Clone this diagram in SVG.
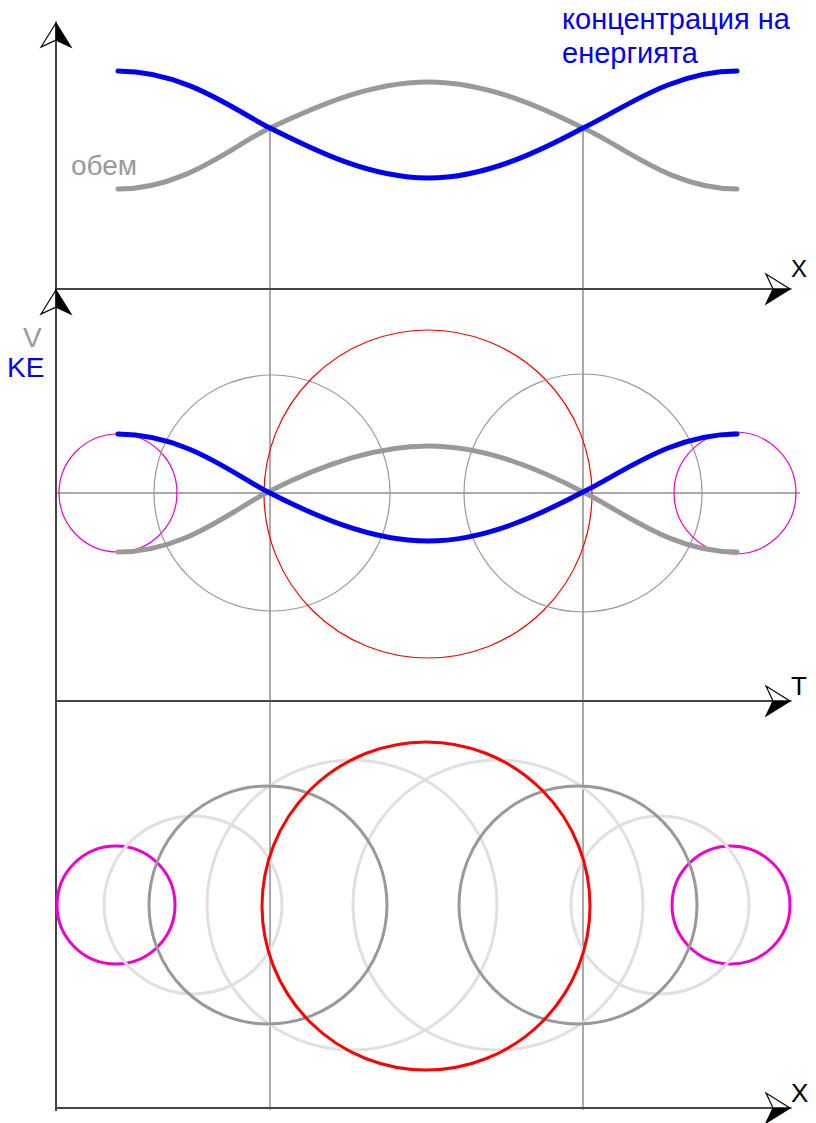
<svg xmlns="http://www.w3.org/2000/svg" xmlns:xlink="http://www.w3.org/1999/xlink" width="816" height="1123" viewBox="0 0 816 1123">
<style>
.axis{stroke:#444;stroke-width:2;fill:none}
.guide{stroke:#555;stroke-width:1;fill:none}
.blue{stroke:#0000f0;stroke-width:5;fill:none;stroke-linecap:round}
.gray{stroke:#999;stroke-width:5;fill:none;stroke-linecap:round}
.thin{fill:none;stroke-width:1.2}
.thick{fill:none;stroke-width:3}
.mag{stroke:#ee00c8}
.red{stroke:#ff0000}
.dg{stroke:#999}
.lg{stroke:#e0e0e0}
.lbl{font-family:"Liberation Sans",Arial,sans-serif}
</style>
<defs>
<g id="arrowR">
<polygon points="0,0 -24,-15 -17,0" fill="#fff" stroke="#000" stroke-width="1.2"/>
<polygon points="0,0 -17,0 -24,15" fill="#000" stroke="#000" stroke-width="1.2"/>
</g>
</defs>
<g id="axes">
<line class="axis" x1="56" y1="24" x2="56" y2="1111"/>
<line class="axis" x1="55" y1="289" x2="774" y2="289"/>
<line class="axis" x1="55" y1="701" x2="774" y2="701"/>
<line class="axis" x1="55" y1="1108" x2="774" y2="1108"/>
<use xlink:href="#arrowR" transform="translate(790,289)"/>
<use xlink:href="#arrowR" transform="translate(790,701)"/>
<use xlink:href="#arrowR" transform="translate(790,1108)"/>
<use xlink:href="#arrowR" transform="translate(56,23) rotate(-90)"/>
<use xlink:href="#arrowR" transform="translate(56,290) rotate(-90)"/>
</g>
<g id="guides">
<line class="guide" x1="270" y1="128" x2="270" y2="1110"/>
<line class="guide" x1="583" y1="128" x2="583" y2="1110"/>
<line class="guide" x1="56" y1="493" x2="800" y2="493"/>
</g>
<g id="top-curves">
<path class="gray" d="M118,189 C185,189 232,146 270,128 C315,107 370,82 428,82 C486,82 541,107 583,128 C624,146 671,189 737,189"/>
<path class="blue" d="M118,71 C185,71 235,110.5 270,128 C315,150.5 370,178 428,178 C486,178 541,150.5 583,128 C621,110.5 671,71 737,71"/>
</g>
<g id="middle-circles">
<circle class="thin mag" cx="118" cy="493" r="59"/>
<circle class="thin dg" cx="272" cy="493" r="118"/>
<circle class="thin red" cx="428" cy="494" r="164"/>
<circle class="thin dg" cx="583" cy="493" r="119"/>
<circle class="thin mag" cx="735" cy="493" r="61"/>
</g>
<g id="middle-curves">
<path class="gray" d="M118,552 C185,552 232,510 268,492 C313,469 370,446 428,446 C486,446 541,470 583,492 C624,512 671,552 737,552"/>
<path class="blue" d="M118,434 C185,434 233,474 268,492 C313,515 370,541 428,541 C486,541 541,514 583,492 C621,474 671,434 737,434"/>
</g>
<g id="bottom-circles">
<circle class="thick mag" cx="116" cy="905" r="59"/>
<circle class="thick mag" cx="731" cy="905" r="59"/>
<circle class="thick lg" cx="193" cy="905" r="89"/>
<circle class="thick lg" cx="660" cy="905" r="89"/>
<circle class="thick lg" cx="352" cy="905" r="145"/>
<circle class="thick lg" cx="498" cy="905" r="145"/>
<circle class="thick dg" cx="268" cy="905" r="119"/>
<circle class="thick dg" cx="578" cy="905" r="119"/>
<circle class="thick red" cx="426" cy="906" r="164"/>
</g>
<g id="labels" class="lbl">
<text x="562" y="29" font-size="29" fill="#0000f0">концентрация на</text>
<text x="562" y="63" font-size="29" fill="#0000f0">енергията</text>
<text x="71" y="175" font-size="28" fill="#999">обем</text>
<text x="23" y="347" font-size="28" fill="#999">V</text>
<text x="7" y="377" font-size="28" fill="#0000f0">KE</text>
<text x="791" y="277" font-size="24" fill="#000">X</text>
<text x="791" y="695" font-size="26" fill="#000">T</text>
<text x="791" y="1102" font-size="26" fill="#000">X</text>
</g>
</svg>
